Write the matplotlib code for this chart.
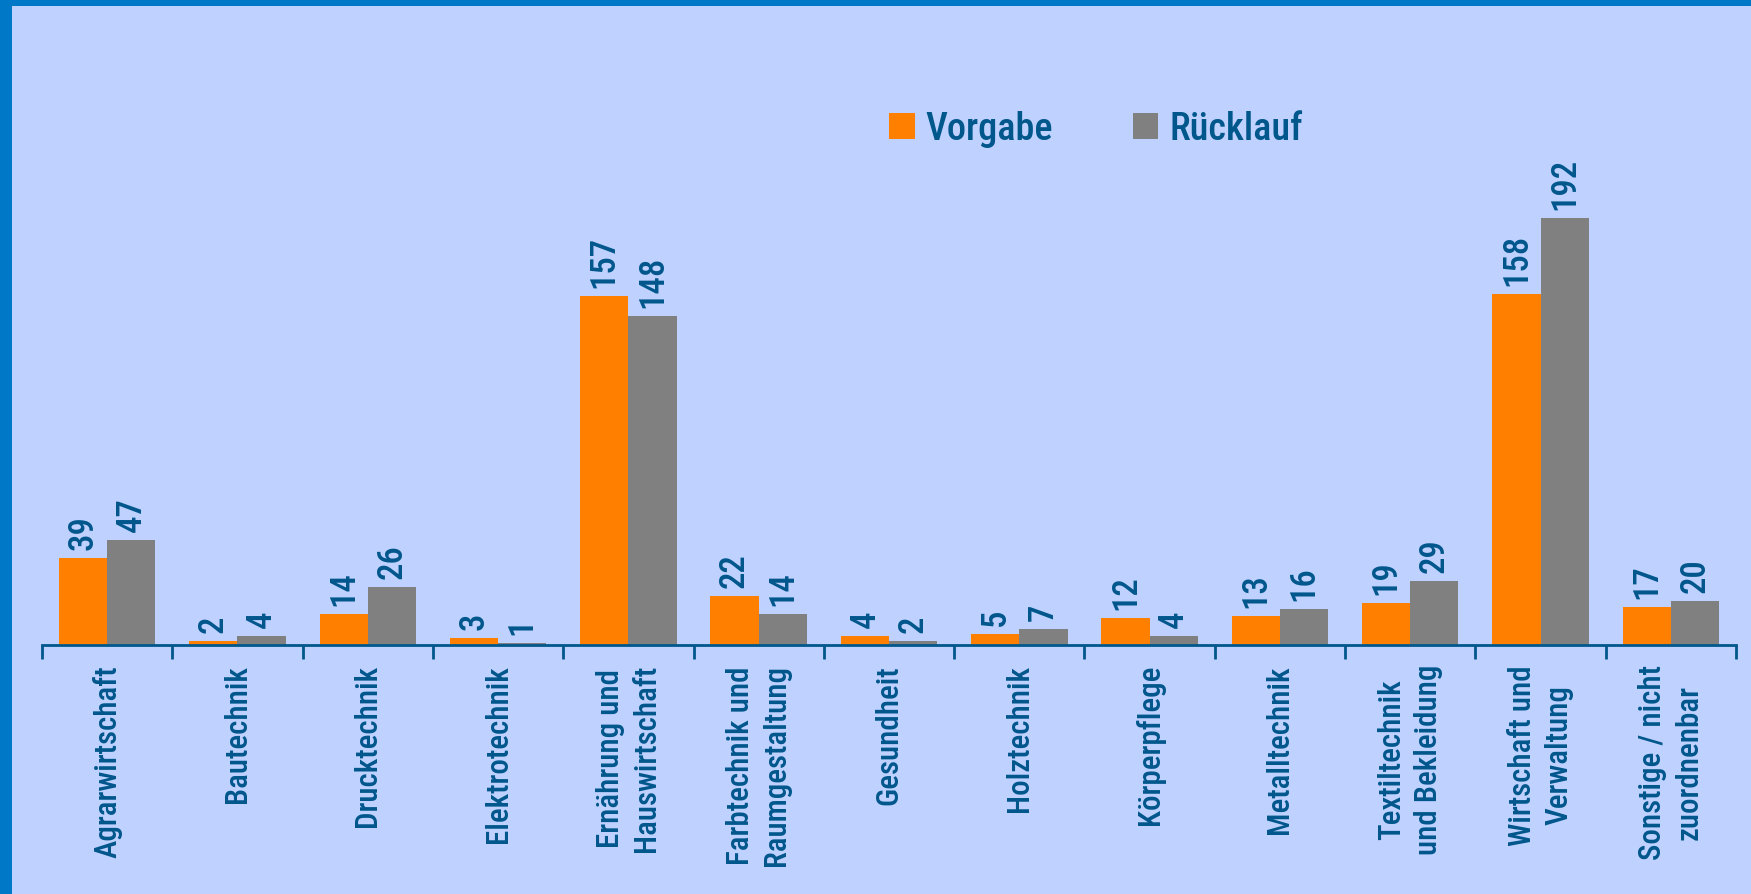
import matplotlib
matplotlib.use("Agg")
import matplotlib.pyplot as plt
import numpy as np
from matplotlib.patches import Rectangle, Patch

categories = ["Agrarwirtschaft", "Bautechnik", "Drucktechnik", "Elektrotechnik",
              "Ernährung und\nHauswirtschaft", "Farbtechnik und\nRaumgestaltung",
              "Gesundheit", "Holztechnik", "Körperpflege", "Metalltechnik",
              "Textiltechnik\nund Bekleidung", "Wirtschaft und\nVerwaltung",
              "Sonstige / nicht\nzuordnenbar"]
vorgabe = [39, 2, 14, 3, 157, 22, 4, 5, 12, 13, 19, 158, 17]
ruecklauf = [47, 4, 26, 1, 148, 14, 2, 7, 4, 16, 29, 192, 20]
series_names = ["Vorgabe", "Rücklauf"]

BG = "#BFD1FF"
BORDER = "#0078C8"
TXT = "#00578C"
ORANGE = "#FF7F00"
GRAY = "#808080"
FONT = ["Roboto Condensed", "DejaVu Sans"]
WEIGHT = 500

W, H = 1751, 894
fig = plt.figure(figsize=(W / 100, H / 100), dpi=100, facecolor=BG)

# borders
fig.patches.append(Rectangle((0, 0), 12 / W, 1, transform=fig.transFigure,
                             facecolor=BORDER, edgecolor="none", zorder=0))
fig.patches.append(Rectangle((0, 1 - 6 / H), 1, 6 / H, transform=fig.transFigure,
                             facecolor=BORDER, edgecolor="none", zorder=0))

x0, x1 = 42, 1736
y_axis = 645
y_top = 6
ax = fig.add_axes([x0 / W, (H - y_axis) / H, (x1 - x0) / W, (y_axis - y_top) / H])
ax.set_facecolor("none")
n = len(categories)
ax.set_xlim(0, n)
ppu = 427 / 192
ax.set_ylim(0, (y_axis - y_top) / ppu)

x = np.arange(n) + 0.5
bw = 0.37
ax.bar(x - bw / 2, vorgabe, bw, color=ORANGE, linewidth=0)
ax.bar(x + bw / 2, ruecklauf, bw, color=GRAY, linewidth=0)

off = 8 / ppu
for xi, v, r in zip(x, vorgabe, ruecklauf):
    ax.text(xi - bw / 2, v + off, str(v), rotation=90, ha="center", va="bottom",
            fontsize=25, color=TXT, family=FONT, fontweight=WEIGHT)
    ax.text(xi + bw / 2, r + off, str(r), rotation=90, ha="center", va="bottom",
            fontsize=25, color=TXT, family=FONT, fontweight=WEIGHT)

for s in ["top", "right", "left"]:
    ax.spines[s].set_visible(False)
ax.spines["bottom"].set_color(TXT)
ax.spines["bottom"].set_linewidth(2)
ax.set_yticks([])
ax.set_xticks(np.arange(n + 1))
ax.set_xticklabels([])
ax.tick_params(axis="x", direction="out", length=10, width=2, color=TXT)

for xi, c in zip(x, categories):
    ax.annotate(c, xy=(xi, 0), xycoords=("data", "axes fraction"),
                xytext=(0, -20), textcoords="offset pixels",
                rotation=90, ha="center", va="top", multialignment="center",
                fontsize=22.3, color=TXT, family=FONT, fontweight=WEIGHT,
                linespacing=1.32)

handles = [Patch(facecolor=ORANGE, edgecolor="none"), Patch(facecolor=GRAY, edgecolor="none")]
leg = fig.legend(handles, series_names, loc="center", bbox_to_anchor=(1096 / W, 1 - 129 / H),
                 ncol=2, frameon=False, handlelength=0.66, handleheight=0.66,
                 handletextpad=0.28, columnspacing=2.1,
                 prop={"family": FONT, "size": 27.5, "weight": WEIGHT})
for t in leg.get_texts():
    t.set_color(TXT)

fig.savefig("out.png", dpi=100, facecolor=BG)
